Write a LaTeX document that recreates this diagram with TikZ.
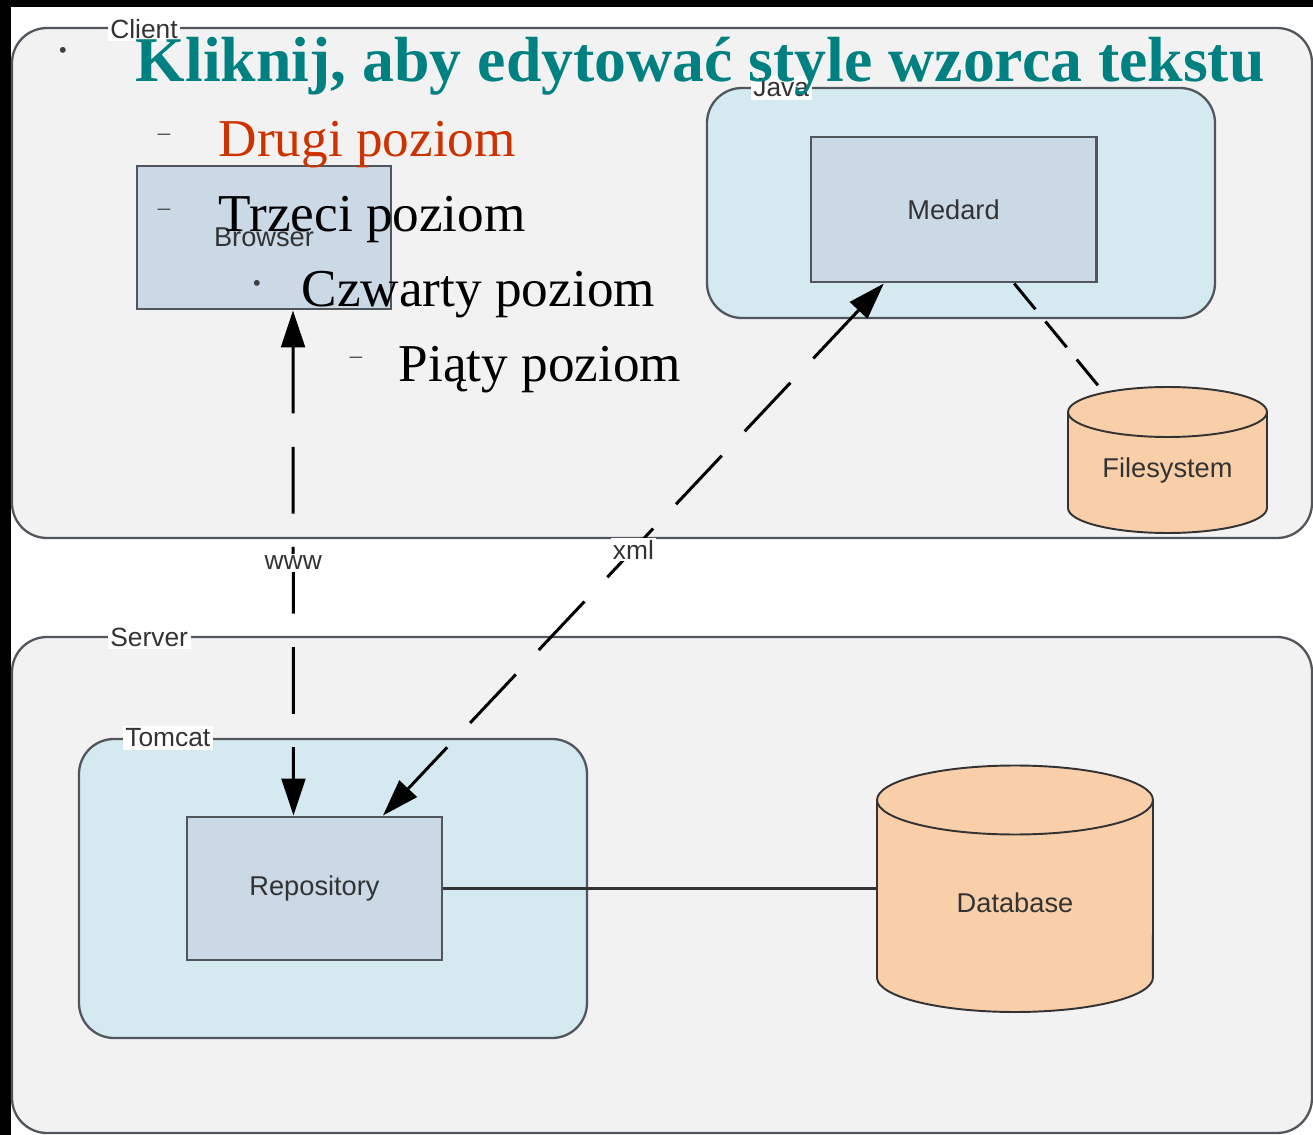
\documentclass[tikz,border=0pt]{standalone}
\usepackage{fontspec}
\setmainfont{Liberation Serif}
\newfontfamily\diafont{Liberation Sans}
\usetikzlibrary{arrows.meta}

\definecolor{grpfill}{HTML}{F2F2F2}
\definecolor{envfill}{HTML}{D4EAF0}
\definecolor{boxfill}{HTML}{CBD8E6}
\definecolor{cylfill}{HTML}{F9CFA9}
\definecolor{edgegray}{HTML}{50565C}
\definecolor{ink}{HTML}{333333}
\definecolor{titleteal}{HTML}{008080}
\definecolor{levelred}{HTML}{CC3300}

\newcommand\pxu{0.02cm}

\tikzset{>={Triangle[length=21pt,width=13.5pt]}}

\begin{document}
\begin{tikzpicture}[x=0.02cm, y=-0.02cm, thick,
    group/.style={draw=edgegray, fill=grpfill, line width=1.3pt, rounded corners=0.7cm},
    envbox/.style={draw=edgegray, fill=envfill, line width=1.3pt, rounded corners=0.7cm},
    grouptitle/.style={fill=white, text=ink, inner sep=1.5pt, font=\diafont\fontsize{15}{15}\selectfont},
    comp/.style={draw=edgegray, fill=boxfill, line width=1.7pt, inner sep=0pt, text=ink, font=\diafont\fontsize{15.5}{16}\selectfont},
    cyl/.style={draw=black!80, fill=cylfill, line width=1.1pt},
    area/.style={inner sep=0pt, outer sep=0pt, text=ink, font=\diafont\fontsize{15.5}{16}\selectfont},
    conn/.style={line width=1.7pt, dash pattern=on 38pt off 19pt},
    shortconn/.style={line width=1.7pt, dash pattern=on 19pt off 9pt},
    connlabel/.style={fill=white, text=ink, inner sep=1pt, font=\diafont\fontsize{15}{15}\selectfont},
    level/.style={anchor=base west, inner sep=0pt, font=\fontsize{30.3}{32}\selectfont},
    marker/.style={inner sep=0pt, text=black!75, font=\fontsize{14}{14}\selectfont}]

  % page frame
  \fill[black] (0,0) rectangle (1313,1135);
  \fill[white] (11,7) rectangle (1313,1135);
  \useasboundingbox (0,0) rectangle (1313,1135);

  % containers
  \draw[group]  (12,28)  rectangle (1312,538);  % client
  \draw[envbox] (707,88) rectangle (1215,318);  % java
  \draw[group]  (12,637) rectangle (1312,1133); % server
  \draw[envbox] (79,739) rectangle (587,1038);  % tomcat

  \node[grouptitle, anchor=west] (clienttitle) at (107,29)  {Client};
  \node[grouptitle, anchor=west] (javatitle)   at (750,88)  {Java};
  \node[grouptitle, anchor=west] (servertitle) at (107,637) {Server};
  \node[grouptitle, anchor=west] (tomcattitle) at (122,738) {Tomcat};

  % components
  \node[comp, minimum width=254*\pxu, minimum height=143*\pxu] (browser) at (264,237.5)   {Browser};
  \node[comp, minimum width=285*\pxu, minimum height=145*\pxu] (medard)  at (953.5,209.5) {Medard};
  \node[comp, minimum width=255*\pxu, minimum height=143*\pxu] (repo)    at (314.5,888.5) {Repository};

  % storage
  \filldraw[cyl] (1068,412) -- (1068,508)
    arc[start angle=180, end angle=360, x radius=1.99cm, y radius=0.5cm] -- (1267,412)
    arc[start angle=0, end angle=180, x radius=1.99cm, y radius=0.5cm] -- cycle;
  \draw[cyl, fill=none] (1068,412) arc[start angle=180, end angle=360, x radius=1.99cm, y radius=0.5cm];
  \filldraw[cyl] (877,800) -- (877,977.5)
    arc[start angle=180, end angle=360, x radius=2.76cm, y radius=0.69cm] -- (1153,800)
    arc[start angle=0, end angle=180, x radius=2.76cm, y radius=0.69cm] -- cycle;
  \draw[cyl, fill=none] (877,800) arc[start angle=180, end angle=360, x radius=2.76cm, y radius=0.69cm];

  \node[area, minimum width=199*\pxu, minimum height=166*\pxu] (fs) at (1167.5,470) {Filesystem};
  \node[area, minimum width=276*\pxu, minimum height=276*\pxu] (db) at (1015,903)   {Database};

  % connectors
  \draw[conn, <->] ([xshift=29*\pxu]browser.south) -- ([xshift=-21*\pxu]repo.north)
    node[connlabel, midway] (wwwlabel) {www};
  \draw[conn, <->] (medard) -- (repo)
    node[connlabel, midway] (xmllabel) {xml};
  \draw[shortconn] (medard) -- (fs);
  \draw[line width=1.7pt, draw=black!80] (repo.east) -- (repo.east -| db.west);

  % text placeholder on top
  \node[marker] (mkone) at (63,53) {•};
  \node[level, text=titleteal, font=\fontsize{36.3}{40}\selectfont\bfseries] (lvlone) at (135,82)
    {Kliknij, aby edytować style wzorca tekstu};
  \node[marker] (mktwo) at (164,137) {–};
  \node[level, text=levelred] (lvltwo) at (218,157) {Drugi poziom};
  \node[marker] (mkthree) at (164,212) {–};
  \node[level] (lvlthree) at (218,232) {Trzeci poziom};
  \node[marker] (mkfour) at (257,286) {•};
  \node[level] (lvlfour) at (301,307) {Czwarty poziom};
  \node[marker] (mkfive) at (356,360) {–};
  \node[level] (lvlfive) at (398,382) {Piąty poziom};
\end{tikzpicture}
\end{document}
